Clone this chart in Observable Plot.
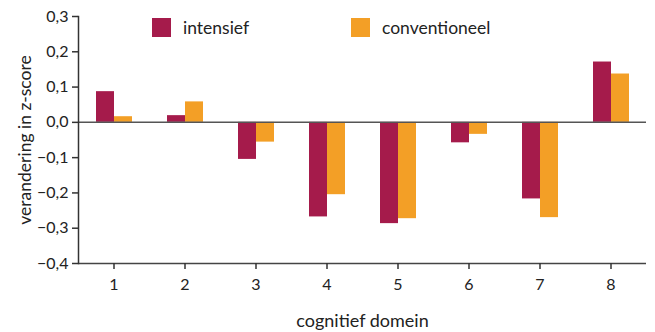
<!DOCTYPE html>
<html>
<head>
<meta charset="utf-8">
<script src="https://cdn.jsdelivr.net/npm/d3@7"></script>
<script src="https://cdn.jsdelivr.net/npm/@observablehq/plot@0.6"></script>
<style>
  body { margin: 0; background: #fff; }
  #wrap { position: relative; width: 655px; height: 332px; font-family: Lato, sans-serif; }
  .legend { position: absolute; top: 18px; display: flex; align-items: center; font-size: 17.5px; color: #222; line-height: 19px; }
  .sw { width: 19px; height: 19px; margin-right: 12px; }
</style>
</head>
<body>
<div id="wrap"></div>
<script>
const domains = ["1", "2", "3", "4", "5", "6", "7", "8"];
const series = ["intensief", "conventioneel"];
const intensief = [0.087, 0.019, -0.105, -0.268, -0.287, -0.058, -0.217, 0.171];
const conventioneel = [0.016, 0.058, -0.056, -0.205, -0.273, -0.034, -0.27, 0.137];
const colors = ["#A51B4B", "#F39F26"];
const yTicks = [-0.4, -0.3, -0.2, -0.1, 0, 0.1, 0.2, 0.3];

const data = domains.flatMap((d, i) => [
  {domein: d, groep: series[0], waarde: intensief[i]},
  {domein: d, groep: series[1], waarde: conventioneel[i]}
]);

const fmt = v => d3.format(".1f")(v).replace(".", ",");

const chart = Plot.plot({
  width: 655,
  height: 332,
  marginLeft: 77,
  marginRight: 8,
  marginTop: 16,
  marginBottom: 69,
  style: {fontFamily: "Lato, sans-serif", fontSize: "16px", color: "#222"},
  fx: {domain: domains, padding: 0},
  x: {domain: series, paddingInner: 0, paddingOuter: 0.875, axis: null},
  y: {domain: [-0.4, 0.3]},
  color: {domain: series, range: colors},
  marks: [
    Plot.barY(data, {fx: "domein", x: "groep", y: "waarde", fill: "groep"}),
    Plot.ruleY([0], {stroke: "#555", strokeWidth: 1.5}),
    Plot.ruleY([-0.4], {stroke: "#444", strokeWidth: 1.5}),
    Plot.frame({anchor: "left", facetAnchor: "left", stroke: "#333", strokeWidth: 1.5}),
    Plot.axisY({ticks: yTicks, tickFormat: fmt, tickSize: 6, tickPadding: 4, stroke: "#333", strokeWidth: 1.5,
      fontSize: 16, label: null}),
    Plot.axisY({ticks: [], label: "verandering in z-score", labelAnchor: "center", labelArrow: "none", labelOffset: 60, fontSize: 17.5}),
    Plot.axisFx({anchor: "bottom", tickSize: 6, tickPadding: 9, stroke: "#333", strokeWidth: 1.5, fontSize: 16, label: null}),
    Plot.axisFx({anchor: "bottom", ticks: [], tickSize: 0, label: "cognitief domein", labelAnchor: "center", labelArrow: "none", labelOffset: 63, dx: -16, fontSize: 18})
  ]
});

const wrap = document.getElementById("wrap");
wrap.appendChild(chart);

const pos = [152, 351];
series.forEach((s, i) => {
  const el = document.createElement("div");
  el.className = "legend";
  el.style.left = pos[i] + "px";
  el.innerHTML = `<div class="sw" style="background:${colors[i]}"></div><span>${s}</span>`;
  wrap.appendChild(el);
});
</script>
</body>
</html>
